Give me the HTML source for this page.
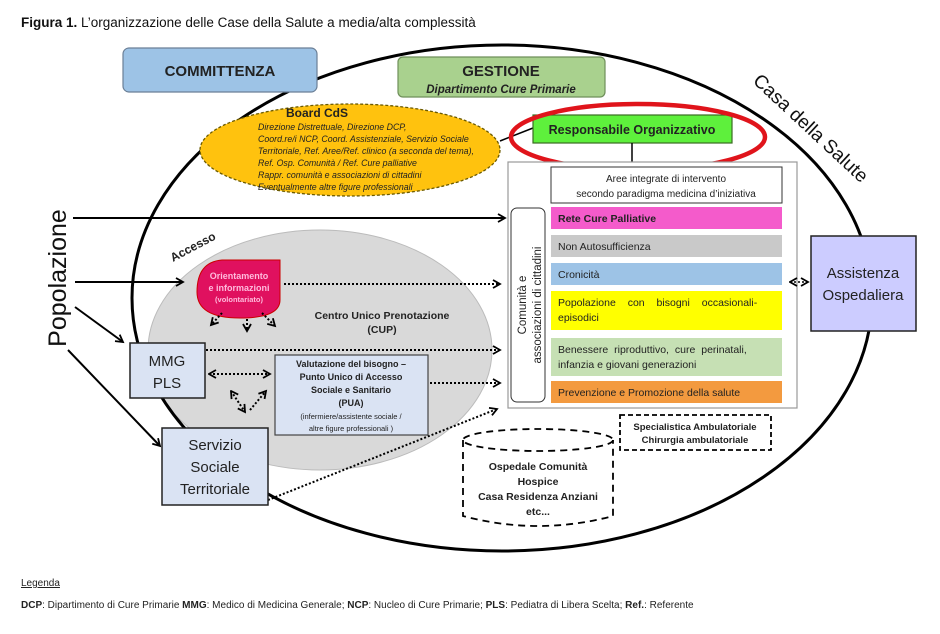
<!DOCTYPE html>
<html><head><meta charset="utf-8"><style>
html,body{margin:0;padding:0;background:#fff;}
svg{display:block;font-family:"Liberation Sans",sans-serif;}
</style></head><body>
<svg width="940" height="634" viewBox="0 0 940 634" xmlns="http://www.w3.org/2000/svg">
<defs>
<marker id="ah" markerWidth="10" markerHeight="10" refX="8" refY="5" orient="auto" markerUnits="userSpaceOnUse"><path d="M1,1 L8,5 L1,9" fill="none" stroke="#000" stroke-width="1.8"/></marker>
<marker id="ahs" markerWidth="10" markerHeight="10" refX="1" refY="5" orient="auto" markerUnits="userSpaceOnUse"><path d="M8,1 L1,5 L8,9" fill="none" stroke="#000" stroke-width="1.8"/></marker>
</defs>
<text x="21" y="27" font-size="13.5" fill="#111"><tspan font-weight="bold">Figura 1.</tspan> L’organizzazione delle Case della Salute a media/alta complessità</text>

<ellipse cx="320" cy="350" rx="172" ry="120" fill="#d9d9d9" stroke="#bbb" stroke-width="1"/>
<ellipse cx="502" cy="298" rx="370" ry="253" fill="none" stroke="#000" stroke-width="3"/>

<rect x="123" y="48" width="194" height="44" rx="6" fill="#9dc3e6" stroke="#6b7f96" stroke-width="1.2"/>
<text x="220" y="76" font-size="15" font-weight="bold" text-anchor="middle" fill="#222">COMMITTENZA</text>
<rect x="398" y="57" width="207" height="40" rx="5" fill="#a9d18e" stroke="#6f8f5a" stroke-width="1.2"/>
<text x="501" y="76" font-size="15" font-weight="bold" text-anchor="middle" fill="#222">GESTIONE</text>
<text x="501" y="93" font-size="11.5" font-weight="bold" font-style="italic" text-anchor="middle" fill="#222">Dipartimento Cure  Primarie</text>

<ellipse cx="350" cy="150" rx="150" ry="46" fill="#ffc20e" stroke="#6b5a00" stroke-width="1.3" stroke-dasharray="3,2"/>
<text x="317" y="117" font-size="12" font-weight="bold" text-anchor="middle" fill="#222">Board CdS</text>
<g font-size="8.8" font-style="italic" fill="#222">
<text x="258" y="130">Direzione Distrettuale, Direzione DCP,</text>
<text x="258" y="142">Coord.re/i NCP, Coord. Assistenziale, Servizio Sociale</text>
<text x="258" y="154">Territoriale, Ref. Aree/Ref. clinico (a seconda del tema),</text>
<text x="258" y="166">Ref. Osp. Comunità  / Ref. Cure palliative</text>
<text x="258" y="178">Rappr. comunità e associazioni di cittadini</text>
<text x="258" y="190">Eventualmente altre figure professionali</text>
</g>
<line x1="500" y1="141" x2="533" y2="128" stroke="#000" stroke-width="1.5"/>

<rect x="533" y="115" width="199" height="28" fill="#5ef03c" stroke="#3a6b22" stroke-width="1.2"/>
<text x="632" y="134" font-size="12.5" font-weight="bold" text-anchor="middle" fill="#222">Responsabile  Organizzativo</text>
<ellipse cx="638" cy="137" rx="127" ry="33" fill="none" stroke="#e0141b" stroke-width="4.5"/>
<line x1="632" y1="143" x2="632" y2="162" stroke="#000" stroke-width="1.5"/>

<text x="0" y="0" font-size="19" fill="#111" transform="translate(752,82) rotate(43)">Casa della Salute</text>

<rect x="508" y="162" width="289" height="246" fill="#fff" stroke="#999" stroke-width="1.2"/>
<rect x="551" y="167" width="231" height="36" fill="#fff" stroke="#333" stroke-width="1"/>
<text x="666" y="182" font-size="10" text-anchor="middle" fill="#222">Aree integrate di intervento</text>
<text x="666" y="197" font-size="10" text-anchor="middle" fill="#222">secondo paradigma medicina d’iniziativa</text>
<rect x="511" y="208" width="34" height="194" rx="6" fill="#fff" stroke="#333" stroke-width="1"/>
<text transform="translate(526,305) rotate(-90)" font-size="11.5" text-anchor="middle" fill="#222">Comunità  e</text>
<text transform="translate(541,305) rotate(-90)" font-size="11.5" text-anchor="middle" fill="#222">associazioni di cittadini</text>
<g font-size="10.5" font-weight="bold" fill="#222">
<rect x="551" y="207" width="231" height="22" fill="#f45bcb"/><text x="558" y="222">Rete Cure Palliative</text>
<rect x="551" y="235" width="231" height="22" fill="#c9c9c9"/><text x="558" y="250" font-weight="normal">Non Autosufficienza</text>
<rect x="551" y="263" width="231" height="22" fill="#9dc3e6"/><text x="558" y="278" font-weight="normal">Cronicità</text>
<rect x="551" y="291" width="231" height="39" fill="#ffff00"/><text x="558" y="306" font-weight="normal" word-spacing="9">Popolazione con bisogni occasionali-</text><text x="558" y="321" font-weight="normal">episodici</text>
<rect x="551" y="338" width="231" height="38" fill="#c6e0b4"/><text x="558" y="353" font-weight="normal" word-spacing="3">Benessere riproduttivo, cure perinatali,</text><text x="558" y="368" font-weight="normal">infanzia e giovani generazioni</text>
<rect x="551" y="381" width="231" height="22" fill="#f39a3f"/><text x="558" y="396" font-weight="normal">Prevenzione e Promozione della salute</text>
</g>

<rect x="811" y="236" width="105" height="95" fill="#ccccff" stroke="#222" stroke-width="1.5"/>
<text x="863" y="278" font-size="15" text-anchor="middle" fill="#222">Assistenza</text>
<text x="863" y="300" font-size="15" text-anchor="middle" fill="#222">Ospedaliera</text>
<line x1="790" y1="282" x2="808" y2="282" stroke="#000" stroke-width="1.5" stroke-dasharray="2,2" marker-start="url(#ahs)" marker-end="url(#ah)"/>

<rect x="620" y="415" width="151" height="35" fill="#fff" stroke="#000" stroke-width="1.8" stroke-dasharray="5,3"/>
<text x="695" y="430" font-size="9.5" font-weight="bold" text-anchor="middle" fill="#222">Specialistica Ambulatoriale</text>
<text x="695" y="443" font-size="9.5" font-weight="bold" text-anchor="middle" fill="#222">Chirurgia ambulatoriale</text>

<g fill="none" stroke="#000" stroke-width="1.8" stroke-dasharray="7,5">
<ellipse cx="538" cy="440" rx="75" ry="11"/>
<path d="M463,440 L463,516 Q538,536 613,516 L613,440"/>
</g>
<g font-size="10.5" font-weight="bold" text-anchor="middle" fill="#222">
<text x="538" y="470">Ospedale Comunità</text>
<text x="538" y="485">Hospice</text>
<text x="538" y="500">Casa Residenza Anziani</text>
<text x="538" y="515">etc...</text>
</g>

<text transform="translate(66,278) rotate(-90)" font-size="25" text-anchor="middle" fill="#111">Popolazione</text>
<g stroke="#000" stroke-width="2" fill="none" marker-end="url(#ah)">
<line x1="73" y1="218" x2="505" y2="218"/>
<line x1="75" y1="282" x2="183" y2="282"/>
<line x1="75" y1="307" x2="123" y2="342"/>
<line x1="68" y1="350" x2="160" y2="446"/>
</g>

<text transform="translate(173,262) rotate(-28)" font-size="12" font-weight="bold" fill="#222">Accesso</text>

<path d="M222,260 L280,260 L280,300 Q280,318 240,318 Q197,318 197,292 Q197,262 222,260 Z" fill="#e0115f" stroke="#c00" stroke-width="1"/>
<g font-size="9" font-weight="bold" text-anchor="middle" fill="#fbd">
<text x="239" y="279">Orientamento</text>
<text x="239" y="291">e informazioni</text>
<text x="239" y="302" font-size="7.5">(volontariato)</text>
</g>
<text x="382" y="319" font-size="10.5" font-weight="bold" text-anchor="middle" fill="#222">Centro Unico Prenotazione</text>
<text x="382" y="333" font-size="10.5" font-weight="bold" text-anchor="middle" fill="#222">(CUP)</text>

<g stroke="#000" stroke-width="2" stroke-dasharray="2,2" fill="none" marker-end="url(#ah)">
<line x1="284" y1="284" x2="500" y2="284"/>
<line x1="206" y1="350" x2="500" y2="350"/>
<line x1="430" y1="383" x2="500" y2="383"/>
<line x1="268" y1="500" x2="497" y2="409"/>
<line x1="222" y1="313" x2="211" y2="325"/>
<line x1="247" y1="319" x2="247" y2="331"/>
<line x1="262" y1="313" x2="275" y2="326"/>
<line x1="250" y1="410" x2="266" y2="391"/>
</g>
<g stroke="#000" stroke-width="2" stroke-dasharray="2,2" fill="none" marker-start="url(#ahs)" marker-end="url(#ah)">
<line x1="209" y1="374" x2="270" y2="374"/>
<line x1="231" y1="391" x2="245" y2="412"/>
</g>

<rect x="130" y="343" width="75" height="55" fill="#dae3f3" stroke="#222" stroke-width="1.5"/>
<text x="167" y="366" font-size="15" text-anchor="middle" fill="#222">MMG</text>
<text x="167" y="388" font-size="15" text-anchor="middle" fill="#222">PLS</text>
<rect x="162" y="428" width="106" height="77" fill="#dae3f3" stroke="#222" stroke-width="1.5"/>
<text x="215" y="450" font-size="15" text-anchor="middle" fill="#222">Servizio</text>
<text x="215" y="472" font-size="15" text-anchor="middle" fill="#222">Sociale</text>
<text x="215" y="494" font-size="15" text-anchor="middle" fill="#222">Territoriale</text>

<rect x="275" y="355" width="153" height="80" fill="#dae3f3" stroke="#444" stroke-width="1.2"/>
<g font-size="9" font-weight="bold" text-anchor="middle" fill="#222">
<text x="351" y="367">Valutazione del bisogno –</text>
<text x="351" y="380">Punto Unico  di Accesso</text>
<text x="351" y="393">Sociale e Sanitario</text>
<text x="351" y="406">(PUA)</text>
<text x="351" y="419" font-size="7.5" font-weight="normal">(infermiere/assistente sociale /</text>
<text x="351" y="431" font-size="7.5" font-weight="normal">altre figure professionali )</text>
</g>

<text x="21" y="586" font-size="10" text-decoration="underline" fill="#222">Legenda</text>
<text x="21" y="608" font-size="10" fill="#222"><tspan font-weight="bold">DCP</tspan>: Dipartimento di Cure Primarie <tspan font-weight="bold">MMG</tspan>: Medico di Medicina Generale; <tspan font-weight="bold">NCP</tspan>: Nucleo di Cure Primarie; <tspan font-weight="bold">PLS</tspan>: Pediatra di Libera Scelta; <tspan font-weight="bold">Ref.</tspan>: Referente</text>
</svg>
</body></html>
